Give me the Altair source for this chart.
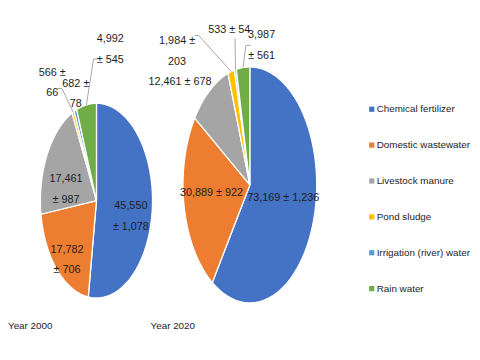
import altair as alt
import pandas as pd

# ---------------- data ----------------
categories = ["Chemical fertilizer", "Domestic wastewater", "Livestock manure",
              "Pond sludge", "Irrigation (river) water", "Rain water"]
years = ["Year 2000", "Year 2020"]
values_2000 = [45550, 17782, 17461, 566, 682, 4992]
errors_2000 = [1078, 706, 987, 66, 78, 545]
values_2020 = [73169, 30889, 12461, 1984, 533, 3987]
errors_2020 = [1236, 922, 678, 203, 54, 561]

# ---------------- style / layout ----------------
colors = ["#4472C4", "#ED7D31", "#A5A5A5", "#FFC000", "#5B9BD5", "#70AD47"]
FONT = "Liberation Sans, Arial, sans-serif"
TXT = "#1e1e1e"
W, H = 472, 344
# ellipse geometry of each pie (page pixels)
PIE = {"Year 2000": (98, 201, 57, 99), "Year 2020": (254, 185, 68, 120)}
# label line-break style: a = break after value, b = break after "±", n = single line
BREAKS = {"Year 2000": ["a", "a", "a", "b", "b", "a"],
          "Year 2020": ["n", "n", "n", "b", "n", "a"]}
LABEL_XY = {"Year 2000": [(133, 207), (68, 251), (67, 179), (53, 71), (77, 82), (112, 37)],
            "Year 2020": [(288, 198), (215, 193), (183, 80), (180, 39), (233, 27), (266, 33)]}
# leader lines: hook start (x, y) and elbow (x, y); end is computed on the pie edge
LEADERS = {("Year 2000", "Pond sludge"): (58, 87, 63, 87),
           ("Year 2000", "Rain water"): (99, 57, 95, 57),
           ("Year 2020", "Pond sludge"): (198, 33, 202, 33),
           ("Year 2020", "Irrigation (river) water"): (239, 36, 239, 36),
           ("Year 2020", "Rain water"): (255, 43, 250, 43)}
YEAR_XY = {"Year 2000": (8, 329), "Year 2020": (153, 329)}

rows = []
for yr, vals, errs in [("Year 2000", values_2000, errors_2000),
                       ("Year 2020", values_2020, errors_2020)]:
    for i, (c, v, e) in enumerate(zip(categories, vals, errs)):
        b = BREAKS[yr][i]
        vs, es = f"{v:,}", f"{e:,}"
        if b == "a":
            txt = f"{vs}\n± {es}"
        elif b == "b":
            txt = f"{vs} ±\n{es}"
        else:
            txt = f"{vs} ± {es}"
        lx, ly = LABEL_XY[yr][i]
        rows.append(dict(year=yr, category=c, order=i, value=v, error=e,
                         label=txt, lx=lx, ly=ly, key=f"{yr}|{c}"))
df = pd.DataFrame(rows)

lead_df = pd.DataFrame([dict(key=f"{k[0]}|{k[1]}", hx=v[0], hy=v[1], ex=v[2], ey=v[3])
                        for k, v in LEADERS.items()])
year_df = pd.DataFrame([dict(year=y, x=YEAR_XY[y][0], y=YEAR_XY[y][1]) for y in years])


def geo(field):
    i = ["cx", "cy", "rx", "ry"].index(field)
    return f"datum.year == 'Year 2000' ? {PIE['Year 2000'][i]} : {PIE['Year 2020'][i]}"


xs = alt.Scale(domain=[8, 8 + W], nice=False, zero=False)
ys = alt.Scale(domain=[8, 8 + H], nice=False, zero=False, reverse=True)
N = 60

angles = (alt.Chart(df)
          .transform_window(cum="sum(value)", groupby=["year"], sort=[alt.SortField("order")],
                            frame=[None, 0])
          .transform_joinaggregate(total="sum(value)", groupby=["year"])
          .transform_calculate(a0="2*PI*(datum.cum - datum.value)/datum.total",
                               a1="2*PI*datum.cum/datum.total",
                               cx=geo("cx"), cy=geo("cy"), rx=geo("rx"), ry=geo("ry")))

slices = (angles
          .transform_calculate(t=f"sequence(-1, {N + 2})")
          .transform_flatten(["t"])
          .transform_calculate(
              ang=f"datum.a0 + (datum.a1 - datum.a0) * clamp(datum.t, 0, {N}) / {N}",
              px=f"(datum.t < 0 || datum.t > {N}) ? datum.cx : datum.cx + datum.rx * sin(datum.ang)",
              py=f"(datum.t < 0 || datum.t > {N}) ? datum.cy : datum.cy - datum.ry * cos(datum.ang)")
          .mark_line(filled=True, stroke="white", strokeWidth=1.3, strokeJoin="round")
          .encode(x=alt.X("px:Q", scale=xs, axis=None),
                  y=alt.Y("py:Q", scale=ys, axis=None),
                  color=alt.Color("category:N",
                                  scale=alt.Scale(domain=categories, range=colors),
                                  sort=categories,
                                  legend=alt.Legend(title=None, orient="none",
                                                    legendX=365, legendY=95,
                                                    symbolType="square", symbolSize=28,
                                                    symbolStrokeWidth=0,
                                                    labelFont=FONT, labelFontSize=10,
                                                    labelColor=TXT, rowPadding=26.5,
                                                    labelOffset=0, labelLimit=200)),
                  detail="year:N",
                  order="t:Q"))

leaders_base = (angles
                .transform_lookup(lookup="key",
                                  from_=alt.LookupData(lead_df, "key", ["hx", "hy", "ex", "ey"]))
                .transform_filter("isValid(datum.ex)")
                .transform_calculate(px="datum.cx + datum.rx * sin((datum.a0 + datum.a1) / 2)",
                                     py="datum.cy - datum.ry * cos((datum.a0 + datum.a1) / 2)"))
leader1 = leaders_base.mark_rule(color="#A6A6A6", strokeWidth=1).encode(
    x=alt.X("ex:Q", scale=xs, axis=None), y=alt.Y("ey:Q", scale=ys, axis=None),
    x2="px:Q", y2="py:Q")
leader2 = leaders_base.mark_rule(color="#A6A6A6", strokeWidth=1).encode(
    x=alt.X("hx:Q", scale=xs, axis=None), y=alt.Y("hy:Q", scale=ys, axis=None),
    x2="ex:Q", y2="ey:Q")

labels = alt.Chart(df).mark_text(font=FONT, fontSize=11, color=TXT, lineBreak="\n",
                                 lineHeight=21, align="center", baseline="middle").encode(
    x=alt.X("lx:Q", scale=xs, axis=None), y=alt.Y("ly:Q", scale=ys, axis=None),
    text="label:N")

year_labels = alt.Chart(year_df).mark_text(font=FONT, fontSize=10, color=TXT,
                                           align="left", baseline="middle").encode(
    x=alt.X("x:Q", scale=xs, axis=None), y=alt.Y("y:Q", scale=ys, axis=None),
    text="year:N")

chart = (alt.layer(slices, leader1, leader2, labels, year_labels)
         .properties(width=W, height=H, padding=0,
                     autosize=alt.AutoSizeParams(type="none"))
         .configure_view(stroke=None))

chart.save("out.html", embed_options={"renderer": "svg", "actions": False})
